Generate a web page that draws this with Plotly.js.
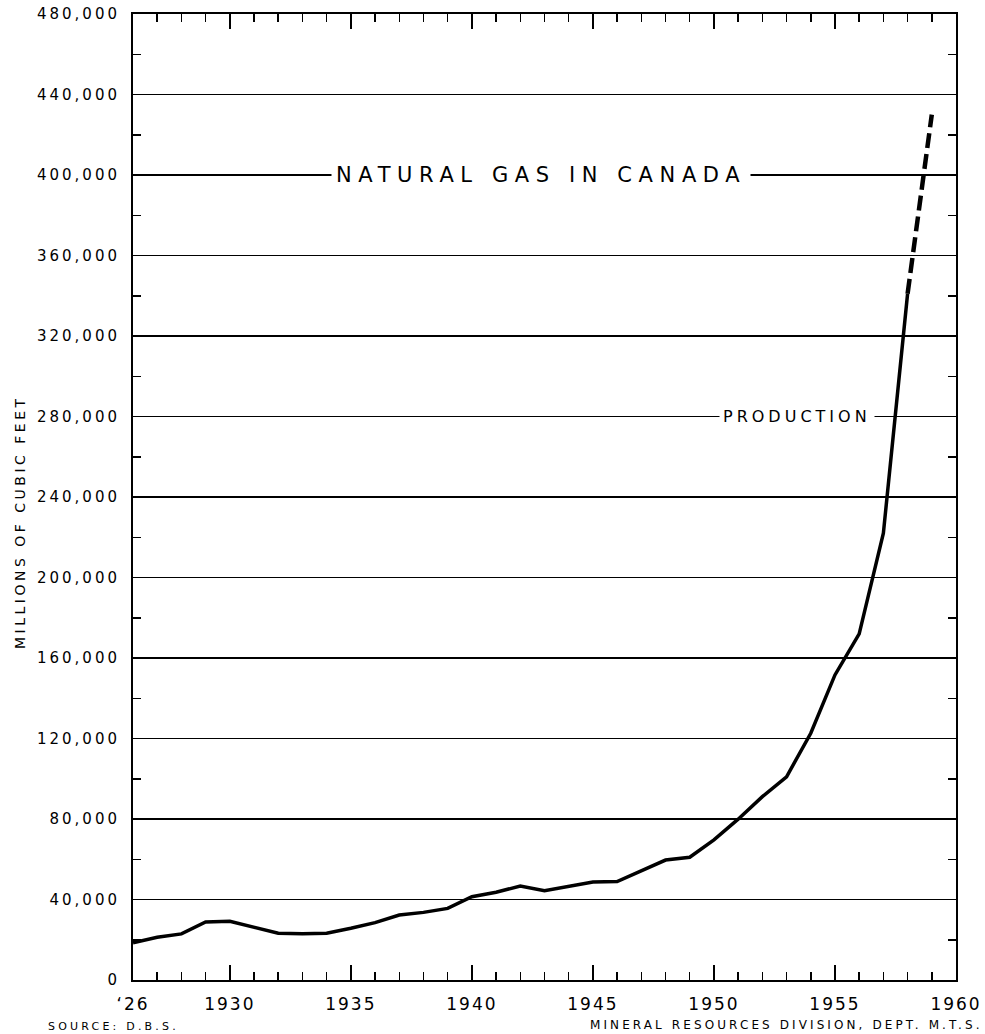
<!DOCTYPE html>
<html>
<head>
<meta charset="utf-8">
<script src="https://cdn.plot.ly/plotly-3.0.1.min.js"></script>
<style>
  html, body { margin: 0; padding: 0; background: #fff; }
  #chart { width: 985px; height: 1034px; }
  .xtick text { letter-spacing: 2px; }
  .ytick text { letter-spacing: 3px; }
  text[data-unformatted^="NATURAL"] { letter-spacing: 6.6px; }
  text[data-unformatted^="PRODUCTION"] { letter-spacing: 4px; }
  text[data-unformatted^="MILLIONS"] { letter-spacing: 3.5px; }
  text[data-unformatted^="MINERAL"] { letter-spacing: 3.1px; }
  text[data-unformatted^="SOURCE"] { letter-spacing: 3.2px; }
</style>
</head>
<body>
<div id="chart"></div>
<script>
// Production of natural gas in Canada, millions of cubic feet
const years = [1926, 1927, 1928, 1929, 1930, 1931, 1932, 1933, 1934, 1935,
               1936, 1937, 1938, 1939, 1940, 1941, 1942, 1943, 1944, 1945,
               1946, 1947, 1948, 1949, 1950, 1951, 1952, 1953, 1954, 1955,
               1956, 1957, 1958, 1959];
const production = [18500, 21200, 22900, 28800, 29200, 26200, 23200, 23000, 23200, 25700,
                    28500, 32300, 33600, 35600, 41400, 43600, 46700, 44400, 46400, 48700,
                    48900, 54300, 59600, 61000, 69600, 79900, 91100, 101000, 122600, 151600,
                    172000, 222000, 341000, 430000];
const lastActualYear = 1958;   // after this the curve is drawn dashed (estimate)

const xTickVals = [1926, 1930, 1935, 1940, 1945, 1950, 1955, 1960];
const xTickText = ["\u201826", "1930", "1935", "1940", "1945", "1950", "1955", "1960"];
const yTickVals = [0, 40000, 80000, 120000, 160000, 200000, 240000, 280000, 320000, 360000, 400000, 440000, 480000];

const cut = years.indexOf(lastActualYear);
const solid = {
  x: years.slice(0, cut + 1), y: production.slice(0, cut + 1),
  type: 'scatter', mode: 'lines',
  line: { color: '#000', width: 3.5 },
  hoverinfo: 'skip', showlegend: false
};
const dashed = {
  x: years.slice(cut), y: production.slice(cut),
  type: 'scatter', mode: 'lines',
  line: { color: '#000', width: 4.5, dash: '15px,6px' },
  hoverinfo: 'skip', showlegend: false
};

const font = 'DejaVu Sans, Verdana, sans-serif';
const px2paperX = p => (p - 133) / 823;
const px2paperY = p => (980 - p) / 966;

const layout = {
  width: 985, height: 1034,
  margin: { l: 133, r: 29, t: 14, b: 54 },
  paper_bgcolor: '#fff', plot_bgcolor: '#fff',
  font: { family: font, color: '#000' },
  xaxis: {
    range: [1926, 1960], showgrid: true, gridcolor: 'rgba(0,0,0,0)', zeroline: false,
    showline: true, linecolor: '#000', linewidth: 2, mirror: 'allticks',
    ticks: 'inside', ticklen: 15, tickwidth: 1.5, tickcolor: '#000',
    tickvals: xTickVals, ticktext: xTickText,
    tickfont: { family: font, size: 17, color: '#000' },
    ticklabelstandoff: 8,
    minor: { dtick: 1, tick0: 1926, ticks: 'inside', ticklen: 8, tickwidth: 1.5, tickcolor: '#000', showgrid: false }
  },
  yaxis: {
    range: [0, 480000], zeroline: false,
    showgrid: true, gridcolor: '#000', gridwidth: 1.3,
    showline: true, linecolor: '#000', linewidth: 2, mirror: 'allticks',
    ticks: 'inside', ticklen: 8, tickwidth: 1.5, tickcolor: '#000',
    tickvals: yTickVals, tickformat: ',',
    tickfont: { family: font, size: 15, color: '#000' },
    ticklabelstandoff: 8,
    minor: { dtick: 20000, tick0: 0, ticks: 'inside', ticklen: 8, tickwidth: 1.5, tickcolor: '#000', showgrid: false }
  },
  annotations: [
    { text: 'NATURAL GAS IN CANADA', xref: 'paper', yref: 'y',
      x: px2paperX(541), y: 400000, xanchor: 'center', yanchor: 'middle',
      showarrow: false, bgcolor: '#fff', borderpad: 4,
      font: { family: font, size: 21, color: '#000' } },
    { text: 'PRODUCTION', xref: 'paper', yref: 'y',
      x: px2paperX(797), y: 280000, xanchor: 'center', yanchor: 'middle',
      showarrow: false, bgcolor: '#fff', borderpad: 3,
      font: { family: font, size: 16, color: '#000' } },
    { text: 'MILLIONS OF CUBIC FEET', xref: 'paper', yref: 'paper',
      x: px2paperX(20), y: px2paperY(522), xanchor: 'center', yanchor: 'middle',
      textangle: -90, showarrow: false,
      font: { family: font, size: 14, color: '#000' } },
    { text: 'SOURCE: D.B.S.', xref: 'paper', yref: 'paper',
      x: px2paperX(46), y: px2paperY(1026), xanchor: 'left', yanchor: 'middle',
      showarrow: false, font: { family: font, size: 11, color: '#000' } },
    { text: 'MINERAL RESOURCES DIVISION, DEPT. M.T.S.', xref: 'paper', yref: 'paper',
      x: px2paperX(985), y: px2paperY(1025), xanchor: 'right', yanchor: 'middle',
      showarrow: false, font: { family: font, size: 12, color: '#000' } }
  ]
};

Plotly.newPlot('chart', [solid, dashed], layout, { displayModeBar: false, staticPlot: true });
</script>
</body>
</html>
